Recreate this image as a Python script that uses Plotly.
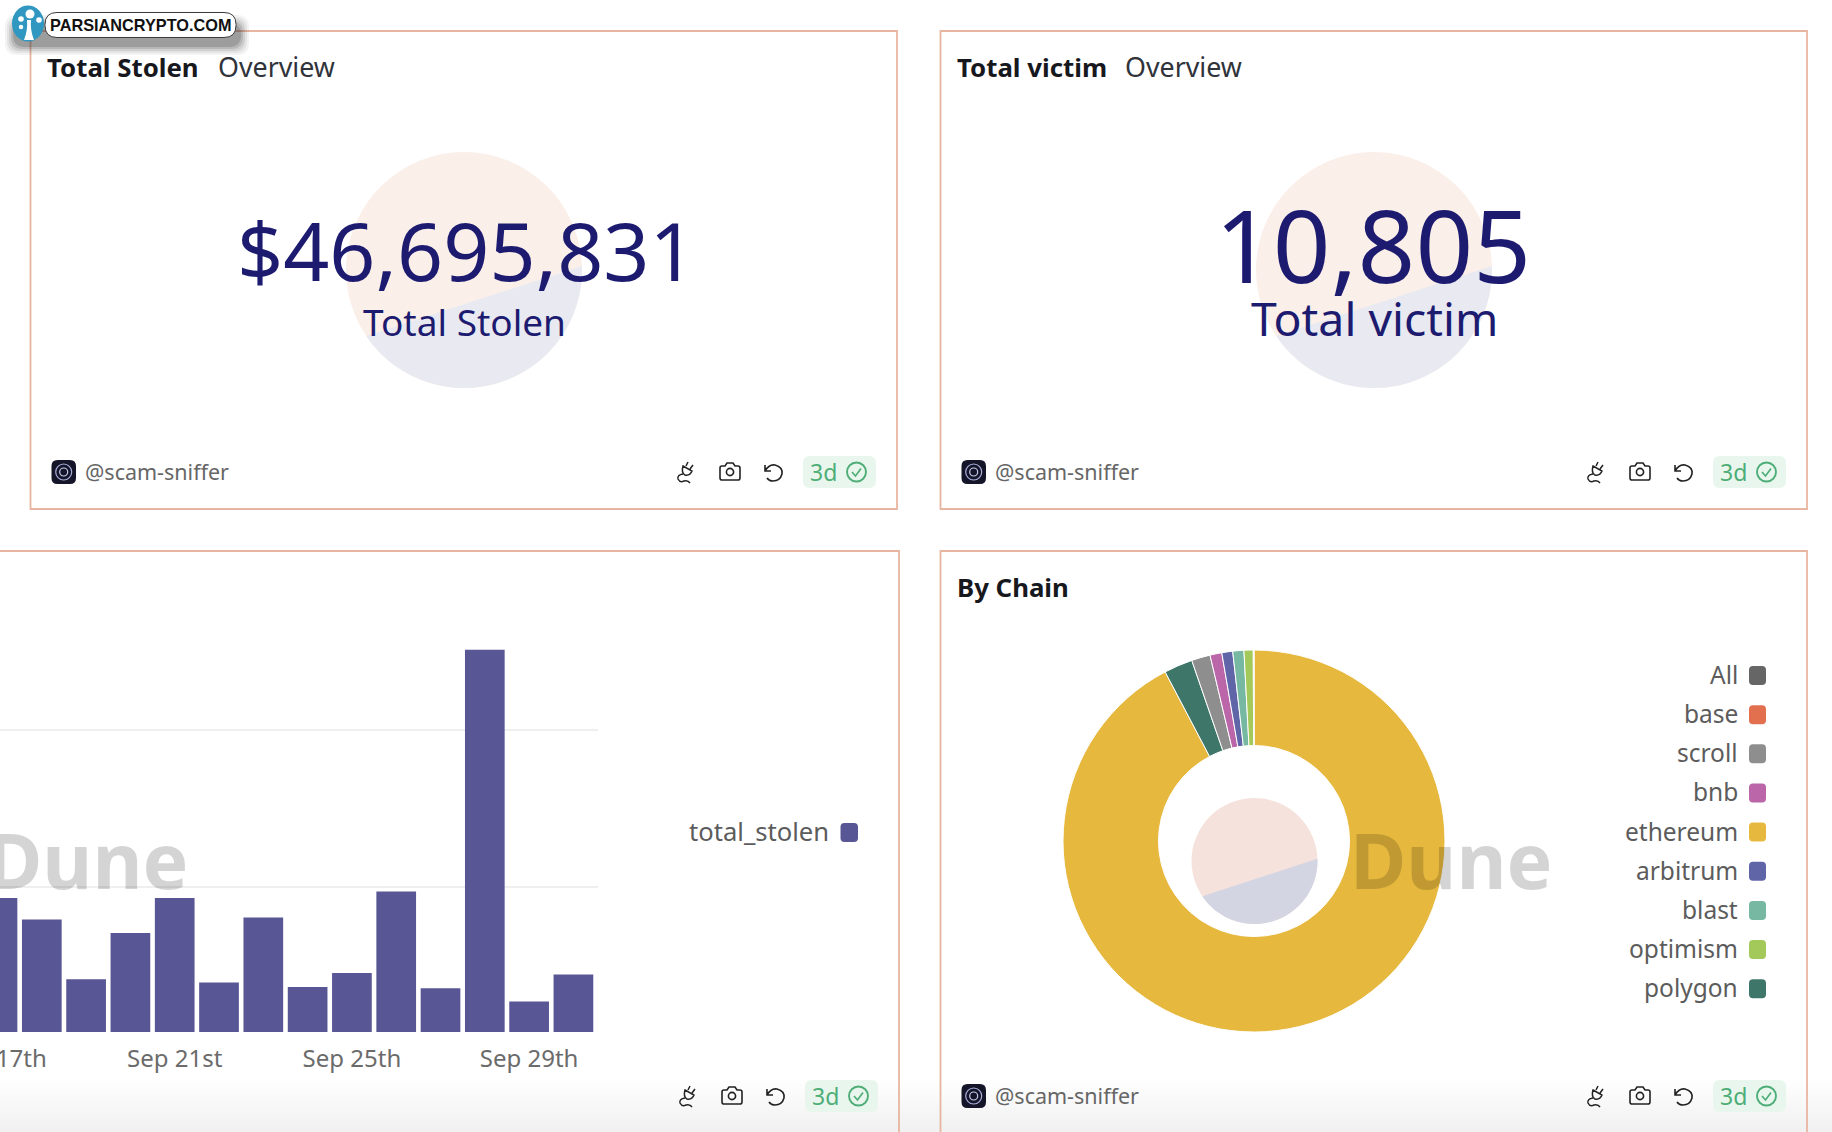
import re
import math
import plotly.graph_objects as go

# ---------- data ----------
bar_dates = ["2024-09-17", "2024-09-18", "2024-09-19", "2024-09-20", "2024-09-21", "2024-09-22", "2024-09-23",
             "2024-09-24", "2024-09-25", "2024-09-26", "2024-09-27", "2024-09-28", "2024-09-29", "2024-09-30"]
bar_values = [3.55, 2.98, 1.40, 2.62, 3.55, 1.31, 3.03, 1.19, 1.56, 3.72, 1.16, 10.12, 0.81, 1.52]  # USD millions
grid_values = [3.85, 8.0]
tick_dates = ["2024-09-17", "2024-09-21", "2024-09-25", "2024-09-29"]
tick_labels = ["Sep 17th", "Sep 21st", "Sep 25th", "Sep 29th"]

pie_labels = ["ethereum", "polygon", "scroll", "bnb", "arbitrum", "blast", "optimism", "base", "All"]
pie_values = [92.30, 2.42, 1.58, 1.00, 0.92, 0.94, 0.78, 0.03, 0.03]
legend_labels = ["All", "base", "scroll", "bnb", "ethereum", "arbitrum", "blast", "optimism", "polygon"]
chain_colors = {"All": "#666666", "base": "#e2704f", "scroll": "#8e8e8e", "bnb": "#ba66a9", "ethereum": "#e7b83e",
                "arbitrum": "#6065a8", "blast": "#76b8a1", "optimism": "#a4c95b", "polygon": "#3e7769"}

# ---------- page geometry ----------
PAD = 200                 # part of the figure hidden past the left page edge
PW, PH = 1832, 1132
W = PW + PAD
FONT = "Noto Sans"
BAR = "#585694"
NAVY = "#1d1b70"
BORDER = "#e8b5a0"


def fx(x):
    return (x + PAD) / W


def fy(y):
    return 1 - y / PH


def path(d, ox=0, oy=0, s=1):
    toks = re.findall(r"[MLCQZ]|-?\d+\.?\d*", d)
    out, nums = [], []
    for t in toks:
        if t in "MLCQZ":
            out.append(t)
        else:
            nums.append(float(t))
            if len(nums) == 2:
                out.append(f"{fx(ox + nums[0] * s):.6f},{fy(oy + nums[1] * s):.6f}")
                nums = []
    return " ".join(out)


def rrect(x0, y0, x1, y1, r):
    return path(f"M {x0+r} {y0} L {x1-r} {y0} Q {x1} {y0} {x1} {y0+r} L {x1} {y1-r} Q {x1} {y1} {x1-r} {y1} "
                f"L {x0+r} {y1} Q {x0} {y1} {x0} {y1-r} L {x0} {y0+r} Q {x0} {y0} {x0+r} {y0} Z")


shapes, notes = [], []


def add_path(d, fill=None, line=None, lw=0, opacity=1):
    shapes.append(dict(type="path", xref="paper", yref="paper", path=d, fillcolor=fill or "rgba(0,0,0,0)",
                       line=dict(color=line or "rgba(0,0,0,0)", width=lw), opacity=opacity))


def add_circle(cx, cy, rx, ry=None, fill=None, line=None, lw=0):
    ry = ry or rx
    shapes.append(dict(type="circle", xref="paper", yref="paper", x0=fx(cx - rx), x1=fx(cx + rx),
                       y0=fy(cy + ry), y1=fy(cy - ry), fillcolor=fill or "rgba(0,0,0,0)",
                       line=dict(color=line or "rgba(0,0,0,0)", width=lw)))


def add_text(x, y, text, size, color, anchor="left", bold=False, family=FONT):
    notes.append(dict(xref="paper", yref="paper", x=fx(x), y=fy(y), text=f"<b>{text}</b>" if bold else text,
                      showarrow=False, xanchor=anchor, yanchor="middle", borderpad=0,
                      font=dict(family=family, size=size, color=color)))


def logo(cx, cy, r, upper, lower):
    """Dune logo: a disc with a straight chord cutting off the lower part."""
    add_circle(cx, cy, r, fill=upper)
    a0, a1 = math.radians(-2), math.radians(146)
    pts = [(cx + r * math.cos(a0 + (a1 - a0) * i / 60), cy + r * math.sin(a0 + (a1 - a0) * i / 60)) for i in range(61)]
    add_path(path("M " + " L ".join(f"{x:.2f} {y:.2f}" for x, y in pts) + " Z"), fill=lower)


def footer(dx, dy, author=True):
    if author:
        add_path(rrect(51.5 + dx, 460 + dy, 76 + dx, 484 + dy, 6), fill="#15152a")
        add_circle(63.7 + dx, 472 + dy, 8, line="#aab0dd", lw=1.2)
        add_circle(63.7 + dx, 472 + dy, 4, line="#c7cbee", lw=1.2)
        add_text(84 + dx, 471 + dy, "@scam-sniffer", 21.5, "#666666")
    ink = "#222222"
    # plug
    add_path(path("M 15 2 L 13 6 M 20 5 L 17 9 M 10 6 L 19 11 Q 17 16 12 15 Q 8 13 10 6 Z "
                  "M 10 14 Q 4 15 5 19 Q 7 23 11 21 Q 15 20 17 23", 673 + dx, 460 + dy), line=ink, lw=1.5)
    # camera
    add_path(path("M 3 8 Q 3 6 5 6 L 8 6 L 10 3 L 16 3 L 18 6 L 21 6 Q 23 6 23 8 L 23 18 Q 23 20 21 20 L 5 20 "
                  "Q 3 20 3 18 Z", 717 + dx, 460 + dy), line=ink, lw=1.6)
    add_circle(730 + dx, 472 + dy, 3.6, line=ink, lw=1.6)
    # undo
    add_path(path("M 4 5 L 4 11 L 10 11 M 4 11 Q 8 4 14 5 Q 22 7 21 14 Q 19 21 12 21 Q 8 21 6 18",
                  761 + dx, 460 + dy), line=ink, lw=1.6)
    # 3d badge
    add_path(rrect(803 + dx, 456 + dy, 876 + dx, 488 + dy, 7), fill="#e9f6ee")
    add_text(809 + dx, 472 + dy, "3d", 23, "#4fae77")
    add_circle(856.5 + dx, 472 + dy, 9.5, line="#4fae77", lw=1.9)
    add_path(path("M 852 472 L 855.5 476 L 861 468.5", dx, dy), line="#4fae77", lw=1.7)


# ---------- traces ----------
fig = go.Figure()
fig.add_bar(x=bar_dates, y=bar_values, marker=dict(color=BAR, line=dict(width=0)), name="total_stolen",
            xaxis="x", yaxis="y", hoverinfo="skip")
fig.add_pie(values=pie_values, labels=pie_labels, sort=False, direction="clockwise", rotation=0, hole=0.5,
            marker=dict(colors=[chain_colors[k] for k in pie_labels], line=dict(color="#ffffff", width=1)),
            textinfo="none", hoverinfo="skip",
            domain=dict(x=[fx(1254 - 191), fx(1254 + 191)], y=[fy(841 + 191), fy(841 - 191)]))

# ---------- page furniture ----------
for k in range(14):
    shapes.append(dict(type="rect", xref="paper", yref="paper", x0=0, x1=1, y0=0, y1=fy(1080 + k * 3.6),
                       fillcolor="rgba(0,0,0,0.004)", line=dict(width=0)))
for x0, y0, x1, y1 in [(30.5, 31, 897, 509), (940.5, 31, 1807, 509), (-20, 551, 899, 1150), (940.5, 551, 1807, 1150)]:
    shapes.append(dict(type="rect", xref="paper", yref="paper", x0=fx(x0), x1=fx(x1), y0=fy(y1), y1=fy(y0),
                       line=dict(color=BORDER, width=1.8), fillcolor="rgba(0,0,0,0)"))

logo(464, 270, 118, "#fbefe9", "#e9eaf1")
logo(1374, 270, 118, "#fbefe9", "#e9eaf1")
logo(1254.5, 861, 63, "#f6e2dc", "#d4d5e3")

add_text(45.5, 67, "Total Stolen", 25.8, "#16181d", bold=True)
add_text(217, 67, "Overview", 26.8, "#30333a")
add_text(956, 67, "Total victim", 25.8, "#16181d", bold=True)
add_text(1124, 67, "Overview", 26.8, "#30333a")
add_text(956, 587, "By Chain", 25.8, "#16181d", bold=True)

add_text(466, 250, "$46,695,831", 80.7, NAVY, anchor="center")
add_text(464, 321, "Total Stolen", 37, NAVY, anchor="center")
add_text(1372.5, 244, "10,805", 101, NAVY, anchor="center")
add_text(1374, 318, "Total victim", 46.4, NAVY, anchor="center")

footer(0, 0)
footer(910, 0)
footer(2, 624, author=False)
footer(910, 624)

# legends
add_text(830, 831, "total_stolen", 25.6, "#5c5c5c", anchor="right")
add_path(rrect(840.5, 823, 858, 842, 4), fill=BAR)
for i, name in enumerate(legend_labels):
    yc = 675 + i * 39.15
    add_text(1738.5, yc - 0.5, name, 24.5, "#5c5c5c", anchor="right")
    add_path(rrect(1749, yc - 9, 1766, yc + 10, 4), fill=chain_colors[name])

# Dune marks
add_text(189, 859, "Dune", 77, "rgba(0,0,0,0.17)", anchor="right", bold=True)
add_text(1349, 859, "Dune", 77, "rgba(0,0,0,0.17)", anchor="left", bold=True)

# top-left badge
for k, a in enumerate([0.06, 0.08, 0.11, 0.15, 0.2]):
    g = 9 - k * 2
    add_path(rrect(14 - g, 24 - g, 240 + g, 46 + g, 12), fill=f"rgba(50,50,50,{a})")
add_path(rrect(45, 12.5, 236, 37.5, 12), fill="#ffffff", line="#3a3a3a", lw=1)
add_text(49, 25, "PARSIANCRYPTO.COM", 16.3, "#111111", bold=True, family="Liberation Sans")
add_circle(28, 23.5, 16, 18, fill="#2f97c0")
add_circle(30, 14, 4.5, fill="#ffffff")
add_circle(21, 19, 2.8, fill="#ffffff")
add_circle(39, 20, 2.8, fill="#ffffff")
add_circle(21, 27, 2.2, fill="#ffffff")
add_path(path("M 24 40 Q 28 30 27 20 L 31 20 Q 30 30 34 40 Z"), fill="#ffffff")

fig.update_layout(
    width=W, height=PH, margin=dict(l=0, r=0, t=0, b=0), paper_bgcolor="#ffffff", plot_bgcolor="rgba(0,0,0,0)",
    showlegend=False, bargap=0.104, shapes=shapes, annotations=notes, font=dict(family=FONT),
    xaxis=dict(type="date", domain=[0, fx(598)], range=["2024-09-12 13:00", "2024-09-30 13:19"],
               tickmode="array", tickvals=tick_dates, ticktext=tick_labels, showgrid=False, zeroline=False,
               showline=False, ticks="outside", ticklen=5, tickcolor="rgba(0,0,0,0)",
               tickfont=dict(family=FONT, size=24, color="#6b6b6b"), anchor="y"),
    yaxis=dict(domain=[fy(1032), fy(640)], range=[0, 10.38], tickmode="array", tickvals=grid_values,
               showticklabels=False, showgrid=True, gridcolor="#efefef", gridwidth=2, zeroline=False,
               showline=False, anchor="x"),
)

fig.write_html("out.html", config=dict(displayModeBar=False),
               post_script="document.body.style.margin='0 0 0 -%dpx';document.body.style.overflow='hidden';" % PAD)
